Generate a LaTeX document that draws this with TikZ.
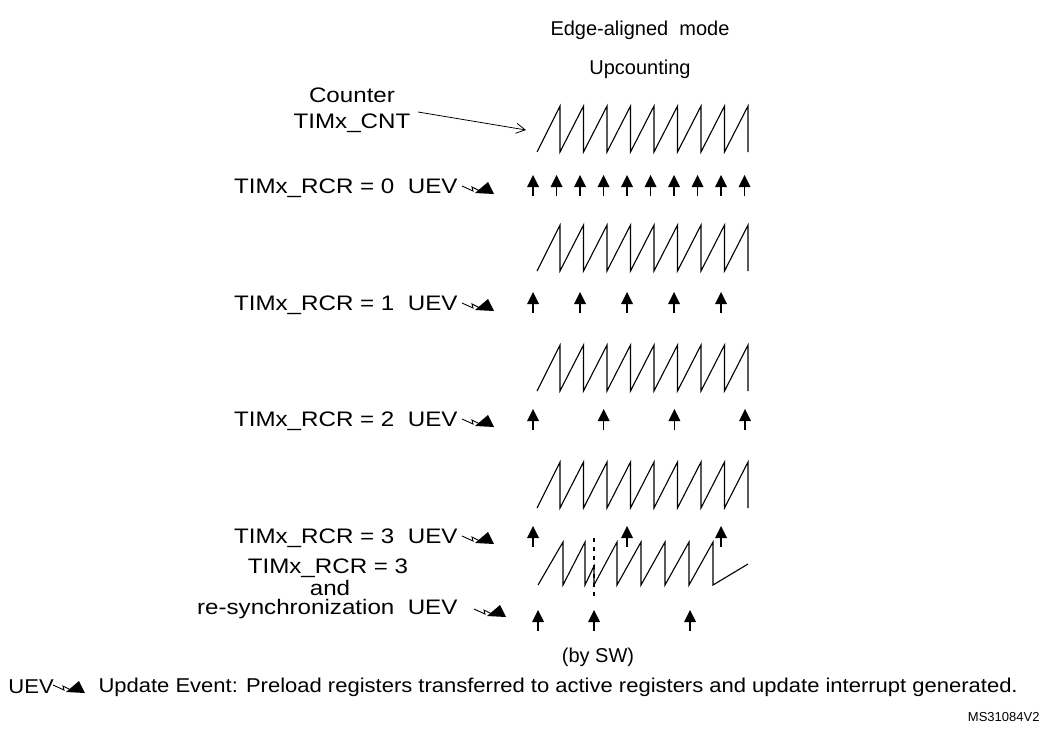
\documentclass[tikz,border=0pt]{standalone}
\usepackage{fontspec}
\setmainfont{Liberation Sans}
\newfontfamily\widefont[FakeStretch=1.15]{Liberation Sans}
\newfontfamily\footfont[FakeStretch=1.1]{Liberation Sans}
\usetikzlibrary{arrows.meta}
\begin{document}
\begin{tikzpicture}[x=1pt,y=-1pt,line width=1pt,
  lbl/.style={font=\fontsize{20}{22}\selectfont,inner sep=0pt},
  wlbl/.style={font=\widefont\fontsize{21}{26}\selectfont,inner sep=0pt},
  saw/.style={line width=1.1pt,line join=miter},
  pics/uparr/.style={code={\draw[line width=1.3pt] (0,0)--(0,-12);
     \fill (-6,-9)--(0,-21)--(6,-9)--cycle;}},
  pics/uev/.style={code={\draw[line width=0.9pt] (0,-2)--(11,3)--(10,-1)--(18,3);
     \fill (13,5)--(26,-6)--(32,6)--cycle;}}]
\useasboundingbox (0,0) rectangle (1040,728);
\node[lbl] (h1) at (640,30) {Edge-aligned\ \ mode};
\node[lbl] (h2) at (640,69) {Upcounting};
\node[wlbl,align=center] (cnt) at (352,110) {Counter\\TIMx\_CNT};
\coordinate (ct) at (526,130);
\draw[-{Straight Barb[length=9pt,width=10pt]},line width=0.8pt] (418,112) -- (ct);
% sawtooth rows
\foreach \yt/\yb in {106/152, 225/271, 345/391, 462/508}{
  \draw[saw] (537,\yb) \foreach \k in {0,...,8}{ -- ({560+23.5*\k},\yt) -- ({560+23.5*\k},\yb)};
}
% labels
\foreach \y/\n/\nm in {188/0/a, 305/1/b, 421/2/c, 538/3/d}{
  \node[wlbl,anchor=east] (r\nm) at (458,\y) {TIMx\_RCR = \n\ \ UEV};
  \pic at (462,\y) {uev};
}
\foreach \i in {0,...,9} \pic at ({533+23.5*\i},196) {uparr};
\foreach \i in {0,...,4} \pic at ({533+47*\i},313) {uparr};
\foreach \i in {0,...,3} \pic at ({533+70.7*\i},430) {uparr};
\foreach \i in {0,...,2} \pic at ({533+94*\i},547) {uparr};
% last row
\node[wlbl] (r5) at (328,568) {TIMx\_RCR = 3};
\node[wlbl] (r5a) at (330,588) {and};
\node[wlbl,anchor=east] (r5b) at (458,609) {re-synchronization\ \ UEV};
\pic at (474,611) {uev};
\draw[saw] (538,585) -- (563,542) -- (563,585) -- (585,542) -- (585,585) -- (594,566) -- (594,585)
  \foreach \k in {0,...,4}{ -- ({617+24*\k},542) -- ({617+24*\k},585)} -- (748,564);
\draw[line width=1.1pt,dash pattern=on 4pt off 5pt] (594,538) -- (594,600);
\pic at (538,631) {uparr};
\pic at (594,631) {uparr};
\pic at (690,631) {uparr};
\node[lbl] (sw) at (598,657) {(by SW)};
% footer
\node[lbl,font=\footfont\fontsize{20}{22}\selectfont,anchor=west] (f1) at (8,687) {UEV};
\pic at (53,687) {uev};
\node[lbl,font=\footfont\fontsize{20}{22}\selectfont,anchor=west] (f2) at (98,687) {Update Event: Preload registers transferred to active registers and update interrupt generated.};
\node[font=\fontsize{13}{15}\selectfont,anchor=east,inner sep=0pt] (ms) at (1040,717) {MS31084V2};
\end{tikzpicture}
\end{document}
